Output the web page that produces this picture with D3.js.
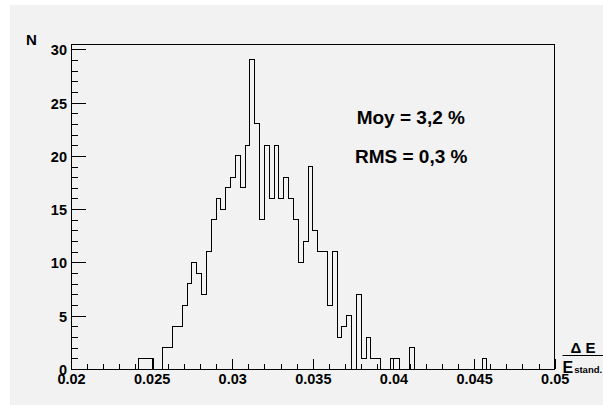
<!DOCTYPE html>
<html>
<head>
<meta charset="utf-8">
<script src="https://cdn.jsdelivr.net/npm/d3@7"></script>
<style>
body { margin: 0; background: #fff; }
svg text { font-family: "Liberation Sans", Arial, Helvetica, sans-serif; font-weight: bold; fill: #000; }
</style>
</head>
<body>
<div id="chart"></div>
<script>
// histogram, 100 bins between 0.02 and 0.05
var xMin = 0.02;
var xMax = 0.05;
var counts = [
  0, 0, 0, 0, 0, 0, 0, 0, 0, 0,
  0, 0, 0, 0, 1, 1, 1, 0, 0, 2,
  2, 4, 4, 6, 8, 10, 9, 7, 11, 14,
  16, 15, 17, 18, 20, 17, 21, 29, 23, 14,
  21, 16, 21, 16, 18, 16, 14, 10, 12, 19,
  13, 11, 11, 6, 11, 3, 4, 5, 0, 7,
  1, 3, 1, 1, 0, 0, 1, 1, 0, 0,
  2, 0, 0, 0, 0, 0, 0, 0, 0, 0,
  0, 0, 0, 0, 0, 1, 0, 0, 0, 0,
  0, 0, 0, 0, 0, 0, 0, 0, 0, 0
];

var xTicks = [0.02, 0.025, 0.03, 0.035, 0.04, 0.045, 0.05];
var xTickLabels = ["0.02", "0.025", "0.03", "0.035", "0.04", "0.045", "0.05"];
var yTicks = [0, 5, 10, 15, 20, 25, 30];
var statLines = ["Moy = 3,2 %", "RMS = 0,3 %"];

function init() {

  var w = 603, h = 405;
  // frame edges
  var fL = 71, fR = 554.7, fT = 44.5, fB = 369;

  var svg = d3.select("#chart").append("svg")
    .attr("width", w)
    .attr("height", h);

  // grey pad
  svg.append("rect")
    .attr("x", 10).attr("y", 5)
    .attr("width", w - 10).attr("height", h - 5)
    .attr("fill", "#f2f2f2");

  var x = d3.scaleLinear().domain([xMin, xMax]).range([fL, fR]);
  var y = d3.scaleLinear().domain([0, d3.max(counts) * 1.05]).range([fB, fT]);

  var binW = (xMax - xMin) / counts.length;

  // step outline
  var pts = [[x(xMin), y(0)]];
  counts.forEach(function(c, i) {
    pts.push([x(xMin + i * binW), y(c)]);
    pts.push([x(xMin + (i + 1) * binW), y(c)]);
  });
  pts.push([x(xMax), y(0)]);

  svg.append("path")
    .attr("d", d3.line()(pts))
    .attr("fill", "none")
    .attr("stroke", "#000")
    .attr("stroke-width", 1)
    .attr("shape-rendering", "crispEdges");

  // minor ticks
  var xMinor = d3.range(0, 31).map(function(i) { return xMin + i * 0.001; });
  var yMinor = d3.range(0, 31);

  svg.append("g")
    .attr("transform", "translate(0," + fB + ")")
    .attr("shape-rendering", "crispEdges")
    .call(d3.axisBottom(x).tickValues(xMinor).tickSize(-4.9).tickSizeOuter(0).tickFormat(""));

  svg.append("g")
    .attr("transform", "translate(" + fL + ",0)")
    .attr("shape-rendering", "crispEdges")
    .call(d3.axisLeft(y).tickValues(yMinor).tickSize(-7.3).tickSizeOuter(0).tickFormat(""));

  // major ticks + labels
  var xAxis = svg.append("g")
    .attr("transform", "translate(0," + fB + ")")
    .attr("shape-rendering", "crispEdges")
    .call(d3.axisBottom(x)
      .tickValues(xTicks)
      .tickSize(-9.8)
      .tickSizeOuter(0)
      .tickPadding(5)
      .tickFormat(function(d, i) { return xTickLabels[i]; }));
  xAxis.selectAll("text").style("font-size", "14.5px");

  var yAxis = svg.append("g")
    .attr("transform", "translate(" + fL + ",0)")
    .attr("shape-rendering", "crispEdges")
    .call(d3.axisLeft(y)
      .tickValues(yTicks)
      .tickSize(-14.5)
      .tickSizeOuter(0)
      .tickPadding(4)
      .tickFormat(d3.format("d")));
  yAxis.selectAll("text").style("font-size", "14.5px").attr("dy", "0.38em");

  svg.selectAll(".domain").attr("stroke", "#000");
  svg.selectAll(".tick line").attr("stroke", "#000");

  // frame top and right
  svg.append("path")
    .attr("d", d3.line()([[fL, fT], [fR, fT], [fR, fB]]))
    .attr("fill", "none")
    .attr("stroke", "#000")
    .attr("shape-rendering", "crispEdges");

  // axis titles
  svg.append("text")
    .attr("x", 26).attr("y", 45)
    .style("font-size", "15px")
    .text("N");

  svg.append("text")
    .attr("x", 583).attr("y", 353.3)
    .attr("text-anchor", "middle")
    .style("font-size", "15px")
    .text("\u0394 E");

  svg.append("line")
    .attr("x1", 562.5).attr("x2", 604)
    .attr("y1", 355.5).attr("y2", 355.5)
    .attr("stroke", "#000")
    .attr("stroke-width", 1.2);

  var den = svg.append("text")
    .attr("x", 562.5).attr("y", 372.7)
    .style("font-size", "16px");
  den.append("tspan").text("E");
  den.append("tspan").attr("dx", 1).style("font-size", "9.5px").text("stand.");

  // stats text
  svg.selectAll(".stat")
    .data(statLines)
    .enter()
    .append("text")
    .attr("class", "stat")
    .attr("x", function(d, i) { return i === 0 ? 356.7 : 355; })
    .attr("y", function(d, i) { return 124.3 + i * 39; })
    .style("font-size", "19px")
    .text(function(d) { return d; });
}

window.onload = init;
</script>
</body>
</html>
